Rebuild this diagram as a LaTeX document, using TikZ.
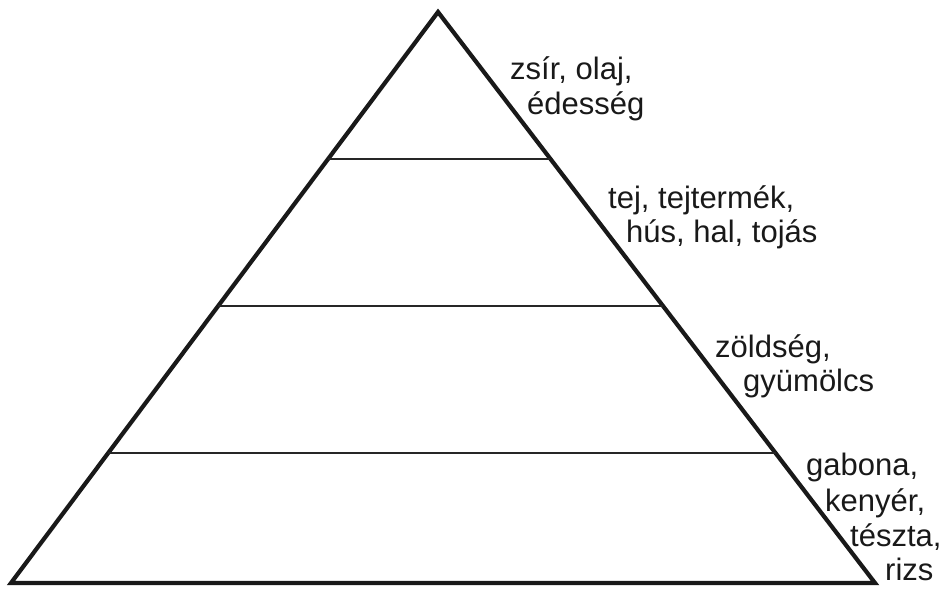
\documentclass[tikz,border=0pt]{standalone}
\usepackage{fontspec}
\setmainfont{Liberation Sans}
\usetikzlibrary{calc}
\begin{document}
\begin{tikzpicture}[x=1pt,y=-1pt,
  edge/.style={line width=4.2pt,line join=miter,black!90},
  tier/.style={line width=2pt,black!85},
  lbl/.style={anchor=base west,inner sep=0pt,font=\fontsize{31}{35}\selectfont,text=black!90}]
\useasboundingbox (0,0) rectangle (948,594);
\coordinate (apex) at (438,12);
\coordinate (bl) at (11,583);
\coordinate (br) at (875,583);
\draw[edge] (apex) -- (br) -- (bl) -- cycle;
\foreach \t/\n in {0.2574/a,0.5149/b,0.7723/c}{
  \coordinate (l\n) at ($(apex)!\t!(bl)$);
  \coordinate (r\n) at ($(apex)!\t!(br)$);
  \draw[tier] (l\n) -- (r\n);
}
\node[lbl] (t1) at (510,80) {zsír, olaj,};
\node[lbl] (t2) at (527,114) {édesség};
\node[lbl] (t3) at (608,208) {tej, tejtermék,};
\node[lbl] (t4) at (626,242) {hús, hal, tojás};
\node[lbl] (t5) at (715,357) {zöldség,};
\node[lbl] (t6) at (743,391) {gyümölcs};
\node[lbl] (t7) at (806,475) {gabona,};
\node[lbl] (t8) at (825,511) {kenyér,};
\node[lbl] (t9) at (850,546) {tészta,};
\node[lbl] (t10) at (885,580) {rizs};
\end{tikzpicture}
\end{document}
